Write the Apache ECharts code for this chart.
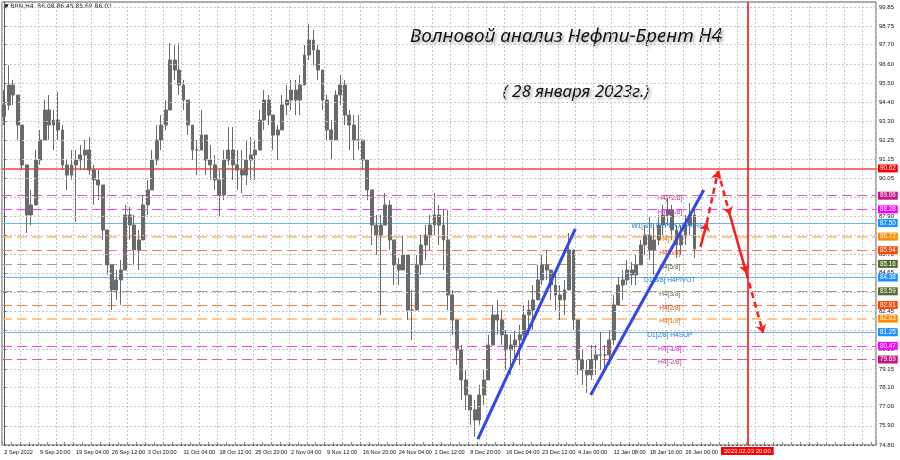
<!DOCTYPE html>
<html><head><meta charset="utf-8">
<script src="https://cdn.jsdelivr.net/npm/echarts@6/dist/echarts.min.js"></script>
<style>html,body{margin:0;padding:0;background:#fff}#c{width:900px;height:460px}</style>
</head><body><div id="c"></div>
<script>
// ---- data ----
const symbolName = 'BRN,H4';
const lastOHLC = ['86.08', '86.45', '85.69', '86.02'];
const xTickLabels = ['2 Sep 2022','9 Sep 20:00','19 Sep 04:00','26 Sep 12:00','3 Oct 20:00','11 Oct 04:00','18 Oct 12:00','25 Oct 20:00','2 Nov 04:00','9 Nov 12:00','16 Nov 20:00','24 Nov 04:00','1 Dec 12:00','8 Dec 20:00','16 Dec 04:00','23 Dec 12:00','4 Jan 00:00','11 Jan 08:00','18 Jan 16:00','26 Jan 00:00'];
const yTickLabels = ['99.85','98.75','97.70','96.60','95.50','94.40','93.30','92.25','91.15','90.05','89.00','87.90','86.80','85.70','84.65','83.55','82.45','81.35','80.25','79.15','78.10','77.00','75.90','74.80'];
const firstOpen = 93.60;
const highs = [95.10,96.53,95.68,94.53,92.53,90.24,89.39,91.67,92.82,94.53, 94.82,93.96,94.99,93.10,91.10,91.67,91.67,91.96,92.25,92.42, 90.82,90.53,89.67,86.81,85.10,84.81,85.38,88.53,88.41,87.96, 87.10,89.10,89.96,91.67,93.10,93.67,94.53,97.79,97.68,97.79, 95.68,94.53,93.10,92.25,93.96,92.53,91.96,91.39,90.53,91.67, 92.99,92.99,91.67,91.67,92.25,92.42,92.25,93.96,95.10,94.82, 93.67,93.10,94.82,95.39,95.68,95.68,95.96,97.68,98.88,98.53, 97.68,96.25,94.82,93.39,95.10,95.96,95.68,93.96,93.67,93.67, 92.25,91.10,89.10,87.96,87.96,89.21,88.81,85.78,85.50,86.81, 85.67,83.67,85.67,86.81,87.38,87.96,89.21,88.53,88.24,88.24, 83.67,81.95,80.52,79.09,77.66,77.38,78.24,79.09,81.10,82.81, 83.10,82.52,81.38,81.10,81.38,81.67,82.81,83.10,83.95,85.10, 85.67,85.96,84.81,84.53,83.95,84.24,86.93,85.96,81.95,80.24, 79.67,80.52,80.52,81.27,80.52,81.38,83.38,84.41,84.81,85.38, 85.27,85.67,86.53,87.38,87.84,87.38,87.96,88.53,88.93,88.53, 87.38,87.38,87.96,88.64,88.53];
const lows = [93.10,93.96,94.25,92.25,90.53,86.93,87.38,88.81,90.82,92.53, 92.25,91.67,92.25,90.53,89.39,89.96,87.56,90.53,90.53,90.24, 88.53,88.81,86.53,84.53,82.52,83.10,82.81,84.81,86.53,85.10, 84.81,86.53,87.96,89.39,90.82,91.67,92.82,93.96,95.68,94.82, 93.96,92.53,91.10,90.24,91.67,90.24,89.96,89.39,87.84,88.81, 90.82,89.96,89.39,89.21,89.67,89.96,89.96,91.96,92.82,93.10, 91.67,91.10,92.82,93.67,93.96,93.67,93.67,95.68,96.82,96.53, 95.68,93.96,92.25,91.10,92.25,94.25,93.10,91.67,91.10,91.67, 90.53,88.81,86.24,85.67,82.24,87.38,85.96,83.95,83.95,84.81, 81.95,80.81,83.10,84.53,85.38,85.96,86.81,86.24,84.81,82.52, 81.10,79.38,77.38,76.81,75.95,75.26,75.95,77.09,78.52,80.52, 81.10,80.52,79.09,78.81,79.67,79.38,80.81,81.10,81.38,83.10, 83.95,84.24,83.10,82.52,81.95,82.24,83.67,81.38,78.81,78.24, 77.78,78.52,78.81,79.09,79.09,79.38,80.52,82.81,83.10,83.95, 83.95,83.95,85.10,85.67,85.38,84.53,86.24,86.81,87.38,86.53, 85.50,85.67,86.24,86.81,85.50];
const closes = [94.25,95.39,94.82,93.10,90.82,87.96,88.53,91.10,92.25,93.96, 93.10,93.39,92.82,90.82,90.24,90.82,91.10,91.39,91.67,90.53, 89.96,89.67,87.10,85.10,83.67,84.24,84.81,87.96,87.38,85.96, 86.53,88.53,89.39,91.10,92.25,93.10,93.96,96.82,96.25,95.39, 94.53,93.10,91.67,91.67,92.53,91.10,90.82,89.96,89.10,91.10, 91.67,90.82,90.53,90.24,91.10,91.39,91.67,93.39,94.53,93.67, 92.53,92.82,94.25,94.53,95.10,94.53,95.39,97.11,97.96,97.39, 96.25,94.53,92.82,92.25,94.82,95.39,93.67,93.10,92.25,92.25, 91.10,89.39,87.38,86.81,87.38,88.53,86.53,85.10,84.81,85.67, 82.52,82.52,85.10,86.24,86.81,87.38,87.96,87.38,86.53,83.38, 81.95,80.24,78.52,77.66,76.81,76.23,77.66,78.52,80.52,82.24, 81.95,81.10,80.24,80.52,80.81,81.10,82.24,82.52,83.10,84.24, 85.10,84.81,83.95,83.38,83.10,83.67,85.96,81.95,79.67,79.09, 78.81,79.67,79.95,79.95,79.95,80.81,82.81,83.95,84.24,84.81, 84.53,85.10,86.24,86.81,85.96,86.53,87.38,87.96,88.24,87.10, 86.24,86.81,87.38,87.96,86.02];
const levelValues = [90.62, 89.06, 88.28, 87.50, 86.72, 85.94, 85.16, 84.38, 83.59, 82.81, 82.03, 81.25, 80.47, 79.69];
const levelNames = ['', 'H4[+2/8]', 'H4[+1/8]', 'W1[3/8] D1PIVOT H4RES', 'H4[7/8]', 'H4[6/8]', 'H4[5/8]', 'D1[3/8] H4PIVOT', 'H4[3/8]', 'H4[2/8]', 'H4[1/8]', 'D1[2/8] H4SUP', 'H4[-1/8]', 'H4[-2/8]'];
const levelKinds = ['alert','pink','magenta','blue','orange','coral','olive','blue','olive','coral','orange','blue','magenta','pink'];
const levelTextIndex = 148.5;
const trendLine1 = [[105.67, 75.13], [127.42, 87.16]];
const trendLine2 = [[130.84, 77.66], [156.08, 89.39]];
const forecastPath = [[155.34, 86.13], [156.75, 87.50], [159.27, 90.47], [161.89, 87.96], [165.57, 84.64], [169.33, 81.21]];
const forecastDashed = [false, true, true, false, true];
const deadlineIndex = 165.8;
const deadlineLabel = '2023.02.03 20:00';
const yMin = 74.80, yMax = 100.14;
const titleLine1 = 'Волновой анализ Нефти-Брент H4';
const titleLine2 = '( 28 января 2023г.)';
const slotCount = 195;

// ---- styles ----
const kindStyle = {
  alert:   {line:'#ff4040', box:'#ff0000', text:'#ff0000', type:'solid', w:1.5},
  pink:    {line:'#e35aae', box:'#c71585', text:'#b8308a', type:[10,5], w:1.2},
  magenta: {line:'#ff3cff', box:'#ff00ff', text:'#cc1ccc', type:[10,5], w:1.2},
  blue:    {line:'#6fb3f7', box:'#1e90ff', text:'#1a78d8', type:'solid', w:1},
  orange:  {line:'#ffb866', box:'#ff8c00', text:'#e07c10', type:[10,5], w:1.5},
  coral:   {line:'#ff7d55', box:'#ff4500', text:'#e04a18', type:[10,5], w:1.2},
  olive:   {line:'#9aa479', box:'#556b2f', text:'#5f7036', type:[10,5], w:1.2}
};
const axisFont = 'Liberation Sans';

const categories = [];
for (let k = 0; k < slotCount; k++) {
  categories.push(k % 8 === 0 && k / 8 < xTickLabels.length ? xTickLabels[k / 8] : '');
}
const candles = closes.map((c, i) => {
  const o = i === 0 ? firstOpen : closes[i - 1];
  return [o, c, lows[i], highs[i]];
});

const levelMarks = levelValues.map((v, i) => {
  const s = kindStyle[levelKinds[i]];
  return {
    yAxis: v,
    lineStyle: {color: s.line, type: s.type, width: s.w},
    label: {show: true, position: 'end', distance: 2, formatter: v.toFixed(2), color: '#fff',
      backgroundColor: s.box, fontSize: 6.3, fontFamily: axisFont, padding: [1, 2, 1, 2]}
  };
});

const gridMarks = yTickLabels.map((t) => ({yAxis: Number(t)}));

const levelTextData = [];
levelValues.forEach((v, i) => {
  if (!levelNames[i]) return;
  levelTextData.push({value: [levelTextIndex, v], label: {formatter: levelNames[i], color: kindStyle[levelKinds[i]].text}});
});

const forecastData = [];
for (let i = 0; i < forecastPath.length - 1; i++) {
  forecastData.push({
    coords: [forecastPath[i], forecastPath[i + 1]],
    lineStyle: {color: '#ff1a1a', width: 2.5, type: forecastDashed[i] ? [6, 4] : 'solid'}
  });
}

const chart = echarts.init(document.getElementById('c'), null, {renderer: 'canvas'});
chart.setOption({
  animation: false,
  backgroundColor: '#ffffff',
  grid: {left: 2, right: 24, top: 2, bottom: 15, show: true, borderColor: '#5a5a5a', borderWidth: 1, backgroundColor: 'transparent'},
  xAxis: [{
    type: 'category', data: categories, boundaryGap: true,
    axisLine: {show: true, lineStyle: {color: '#5a5a5a'}},
    axisTick: {show: true, inside: true, length: 3, interval: (i) => i % 2 === 0, lineStyle: {color: '#8a8a8a'}},
    axisLabel: {interval: (i, v) => v !== '', align: 'left', fontSize: 5.6, color: '#111', fontFamily: axisFont, margin: 4},
    splitLine: {show: true, interval: (i) => i % 4 === 0, lineStyle: {color: '#c6c6c6', type: [2, 2]}}
  }, {
    type: 'value', min: -0.5, max: slotCount - 0.5, show: false
  }],
  yAxis: [{
    type: 'value', position: 'right', min: yMin, max: yMax,
    axisLine: {show: true, lineStyle: {color: '#5a5a5a'}},
    axisTick: {show: true, length: 3, customValues: yTickLabels.map(Number), lineStyle: {color: '#5a5a5a'}},
    axisLabel: {customValues: yTickLabels.map(Number), formatter: (v) => v.toFixed(2), fontSize: 6, color: '#111', fontFamily: axisFont, margin: 3},
    splitLine: {show: false}
  }],
  series: [{
    type: 'line', xAxisIndex: 0, yAxisIndex: 0, data: [], z: 0, silent: true,
    markLine: {silent: true, symbol: ['none', 'none'], animation: false, label: {show: false},
      lineStyle: {color: '#c6c6c6', type: [2, 2], width: 1}, data: gridMarks}
  }, {
    type: 'candlestick', xAxisIndex: 0, yAxisIndex: 0, data: candles, barWidth: 3.4, z: 3,
    itemStyle: {color: '#6a6a6a', color0: '#6a6a6a', borderColor: '#6a6a6a', borderColor0: '#6a6a6a', borderWidth: 1},
    markLine: {silent: true, symbol: ['none', 'none'], animation: false, z: 2, data: levelMarks}
  }, {
    type: 'scatter', xAxisIndex: 1, yAxisIndex: 0, symbolSize: 0.1, data: levelTextData, z: 4,
    itemStyle: {color: '#ff0000', opacity: 1},
    label: {show: true, position: [0, 0], align: 'center', verticalAlign: 'middle', offset: [0, 3], fontSize: 6.6, fontFamily: axisFont, textBorderWidth: 0, opacity: 1},
    markLine: {silent: true, symbol: ['none', 'none'], animation: false,
      lineStyle: {color: '#ff0000', type: 'solid', width: 1.5, opacity: 1},
      data: [{xAxis: deadlineIndex,
        label: {show: true, position: 'start', distance: 2, formatter: deadlineLabel, color: '#fff', backgroundColor: '#ff0000', fontSize: 6, fontFamily: axisFont, padding: [1, 3, 1, 3]}}]}
  }, {
    type: 'lines', coordinateSystem: 'cartesian2d', xAxisIndex: 1, yAxisIndex: 0, z: 5,
    symbol: ['none', 'none'],
    lineStyle: {color: '#3048e8', width: 3, opacity: 1},
    data: [{coords: trendLine1}, {coords: trendLine2}]
  }, {
    type: 'lines', coordinateSystem: 'cartesian2d', xAxisIndex: 1, yAxisIndex: 0, z: 6,
    symbol: ['none', 'arrow'], symbolSize: 8,
    lineStyle: {opacity: 1},
    data: forecastData
  }],
  graphic: [{
    type: 'text', left: 4, top: 3,
    style: {text: '\u25BC ' + symbolName + '  ' + lastOHLC.join(' '), fontSize: 6, fontFamily: 'DejaVu Sans', fill: '#111'}
  }, {
    type: 'text', x: 566, y: 37,
    style: {text: titleLine1, align: 'center', verticalAlign: 'middle', fontSize: 19, fontStyle: 'italic', fontFamily: 'Noto Sans', fill: '#111',
      textShadowColor: 'rgba(0,0,0,0.35)', textShadowBlur: 3, textShadowOffsetX: 2, textShadowOffsetY: 2}
  }, {
    type: 'text', x: 576, y: 92,
    style: {text: titleLine2, align: 'center', verticalAlign: 'middle', fontSize: 17, fontStyle: 'italic', fontFamily: 'Noto Sans', fill: '#111',
      textShadowColor: 'rgba(0,0,0,0.35)', textShadowBlur: 3, textShadowOffsetX: 2, textShadowOffsetY: 2}
  }]
});
</script></body></html>
